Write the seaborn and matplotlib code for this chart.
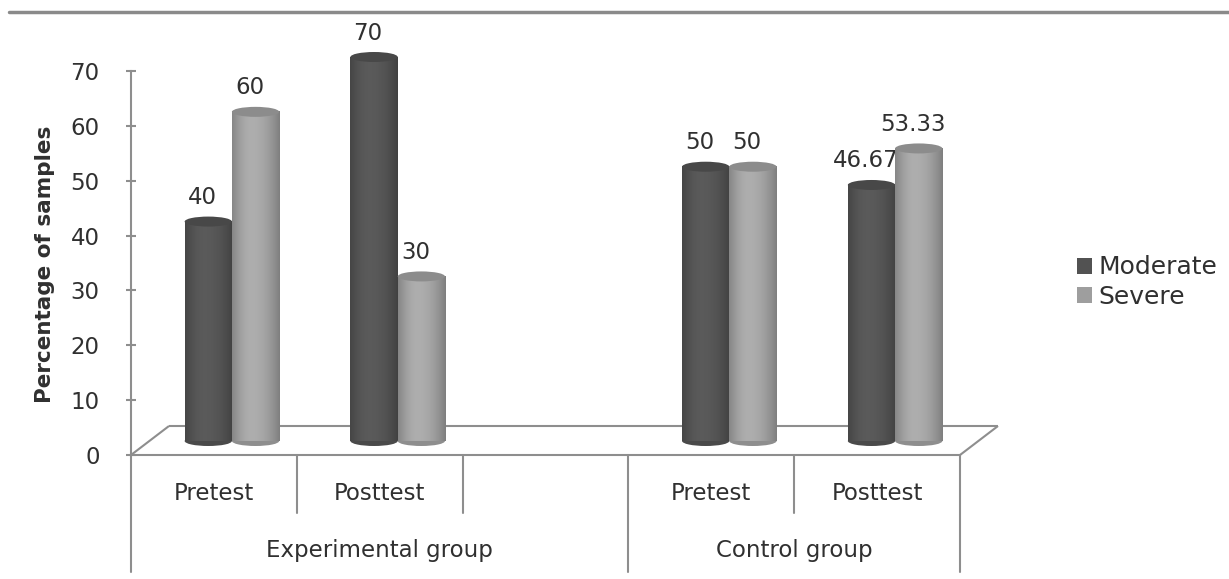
import numpy as np
import pandas as pd
import matplotlib
matplotlib.use("Agg")
import matplotlib.pyplot as plt
import seaborn as sns
from matplotlib.transforms import ScaledTranslation, blended_transform_factory
from matplotlib.patches import Ellipse, Patch
from matplotlib.lines import Line2D

# ---- data -------------------------------------------------------------
groups = ["Experimental group", "Experimental group", "Control group", "Control group"]
phases = ["Pretest", "Posttest", "Pretest", "Posttest"]
moderate = [40, 70, 50, 46.67]
severe = [60, 30, 50, 53.33]
severity_levels = ["Moderate", "Severe"]
y_ticks = [0, 10, 20, 30, 40, 50, 60, 70]
y_label = "Percentage of samples"

# ---- layout -----------------------------------------------------------
W, H, DPI = 1229, 579, 100
AX_L, AX_R, AX_B, AX_T = 131, 960, 455, 71
FS = 16.5
TEXT = "#303030"
LINE = "#8e8e8e"
base_colors = {"Moderate": "#525252", "Severe": "#9e9e9e"}
cap_colors = {"Moderate": "#484848", "Severe": "#8c8c8c"}

slot_keys = [f"{g}|{p}" for g, p in zip(groups, phases)]
gap_key = "gap"
# an empty slot separates the two groups
slot_order = slot_keys[:2] + [gap_key] + slot_keys[2:]
slot_groups = []
for k in slot_order:
    slot_groups.append(slot_groups[-1] if k == gap_key else k.split("|")[0])

df = pd.DataFrame({
    "slot": slot_keys * 2,
    "severity": [severity_levels[0]] * len(slot_keys) + [severity_levels[1]] * len(slot_keys),
    "percent": moderate + severe,
})

sns.set_theme(style="white")
plt.rcParams["font.family"] = ["DejaVu Sans"]

fig = plt.figure(figsize=(W / DPI, H / DPI), dpi=DPI)
fig.patch.set_facecolor("white")
ax = fig.add_axes([AX_L / W, (H - AX_B) / H, (AX_R - AX_L) / W, (AX_B - AX_T) / H])

sns.barplot(data=df, x="slot", y="percent", hue="severity", order=slot_order,
            hue_order=severity_levels, palette=base_colors, width=0.57,
            saturation=1, errorbar=None, legend=False, ax=ax)

n_slots = len(slot_order)
ymax = y_ticks[-1]
px_slot = (AX_R - AX_L) / n_slots
px_unit = (AX_B - AX_T) / ymax

# bars stand in the middle of the floor's depth
depth = ScaledTranslation(18 / DPI, 14 / DPI, fig.dpi_scale_trans)
tr = ax.transData + depth


def shade(t):
    t = np.asarray(t)
    left = 0.85 + 0.25 * np.sin(np.pi / 2 * np.clip(t / 0.4, 0, 1))
    right = 1.10 - 0.30 * ((t - 0.4) / 0.6) ** 2
    return np.where(t < 0.4, left, right)


ell_h = 10 / px_unit
tt = np.linspace(0, 1, 80)
for container, level in zip(ax.containers, severity_levels):
    base = np.array(matplotlib.colors.to_rgb(base_colors[level]))
    grad = np.clip(base[None, :] * shade(tt)[:, None], 0, 1)[None, :, :]
    z = 3 if level == severity_levels[0] else 3.5
    for bar in container:
        x0, w, h = bar.get_x(), bar.get_width(), bar.get_height()
        if not np.isfinite(h):
            continue
        bar.set_visible(False)
        cx = x0 + w / 2
        ax.add_patch(Ellipse((cx, 0), w, ell_h, transform=tr, clip_on=False,
                             facecolor=base * 0.9, edgecolor="none", zorder=z - 0.1))
        im = ax.imshow(grad, extent=(x0, x0 + w, 0, h), transform=tr, aspect="auto",
                       interpolation="bilinear", zorder=z)
        im.set_clip_on(False)
        ax.add_patch(Ellipse((cx, h), w, ell_h, transform=tr, clip_on=False,
                             facecolor=cap_colors[level], edgecolor="none", zorder=z + 0.05))
        ax.annotate(f"{h:g}", xy=(cx, h), xycoords=ax.transData,
                    xytext=(12 * 0.72, 38 * 0.72), textcoords="offset points",
                    ha="center", va="center", fontsize=FS, color=TEXT, zorder=2,
                    annotation_clip=False)

ax.set_xlim(-0.5, n_slots - 0.5)
ax.set_ylim(0, ymax)
ax.set_xlabel("")
ax.set_ylabel("")
ax.set_xticks([])
ax.set_yticks(y_ticks)
ax.tick_params(axis="y", direction="inout", length=7, width=1.5, color=LINE,
               labelcolor=TEXT, labelsize=FS, pad=19, left=True)
for side in ("top", "right"):
    ax.spines[side].set_visible(False)
for side in ("left", "bottom"):
    ax.spines[side].set_visible(True)
    ax.spines[side].set_color(LINE)
    ax.spines[side].set_linewidth(1.5)
ax.patch.set_alpha(0)

# floor of the 3-D plot
dxd, dyd = 38 / px_slot, 29 / px_unit
x_a, x_b = -0.5, n_slots - 0.5
floor_kw = dict(color=LINE, lw=1.5, clip_on=False, zorder=1, solid_capstyle="butt")
ax.plot([x_a + dxd, x_b + dxd], [dyd, dyd], **floor_kw)
ax.plot([x_a, x_a + dxd], [0, dyd], **floor_kw)
ax.plot([x_b, x_b + dxd], [0, dyd], **floor_kw)

# two-level category axis
bt = blended_transform_factory(ax.transData, fig.transFigure)
for i in range(n_slots + 1):
    x = i - 0.5
    outer = i == 0 or i == n_slots or slot_groups[i - 1] != slot_groups[i]
    y_end = 572 if outer else 513
    ax.plot([x, x], [(H - AX_B) / H, (H - y_end) / H], transform=bt,
            color=LINE, lw=1.5, clip_on=False)

for i, k in enumerate(slot_order):
    if k == gap_key:
        continue
    ax.text(i, (H - 493) / H, k.split("|")[1], transform=bt, ha="center",
            va="center", fontsize=FS, color=TEXT)

for g in dict.fromkeys(slot_groups):
    idx = [i for i, sg in enumerate(slot_groups) if sg == g]
    ax.text((idx[0] + idx[-1]) / 2, (H - 550) / H, g, transform=bt, ha="center",
            va="center", fontsize=FS, color=TEXT)

fig.text(45 / W, (H - 264) / H, y_label, rotation=90, ha="center", va="center",
         fontsize=15.5, fontweight="bold", color=TEXT)

# rule along the top edge
fig.add_artist(Line2D([9 / W, 1], [(H - 12) / H] * 2, transform=fig.transFigure,
                      color="#8a8a8a", lw=2.5))

handles = [Patch(facecolor=base_colors[k], edgecolor="none") for k in severity_levels]
fig.legend(handles, severity_levels, loc="center left",
           bbox_to_anchor=(1077 / W, (H - 282) / H), frameon=False,
           fontsize=18, labelcolor=TEXT, handlelength=0.6, handleheight=0.6,
           handletextpad=0.25, labelspacing=0.2, borderpad=0, borderaxespad=0)

fig.savefig("out.png", dpi=DPI, facecolor="white")
